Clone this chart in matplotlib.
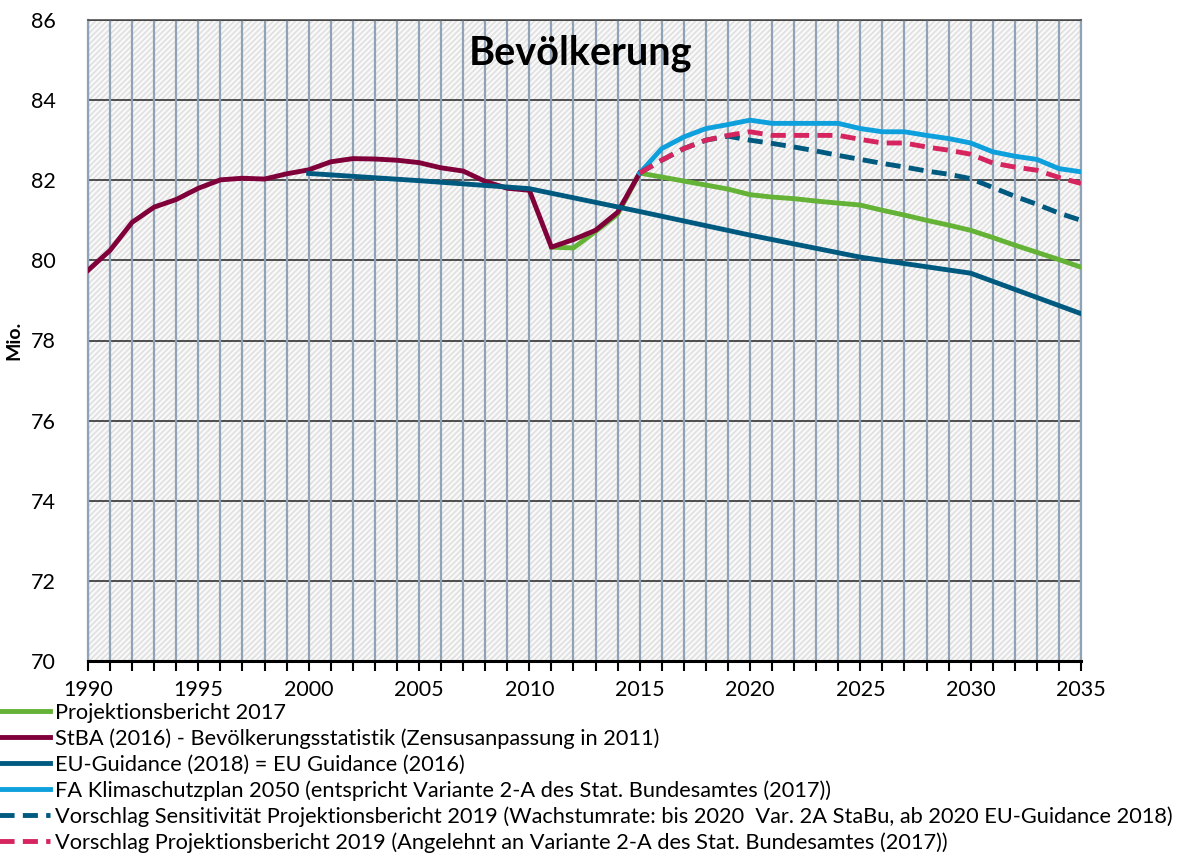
import numpy as np
import matplotlib
matplotlib.use("Agg")
import matplotlib.pyplot as plt
from matplotlib.patches import Rectangle

plt.rcParams['font.family'] = ['Lato', 'DejaVu Sans']
plt.rcParams['hatch.linewidth'] = 1.2
plt.rcParams['hatch.color'] = '#e0e0e0'

# data (Mio. inhabitants)
years_stba = list(range(1990, 2016))
stba = [79.75, 80.25, 80.95, 81.33, 81.52, 81.80, 82.01, 82.05, 82.03, 82.16,
        82.26, 82.46, 82.54, 82.53, 82.50, 82.44, 82.31, 82.23, 81.97, 81.80,
        81.75, 80.33, 80.52, 80.75, 81.20, 82.18]

years_pb17 = list(range(2011, 2036))
pb17 = [80.33, 80.31, 80.72, 81.15, 82.18, 82.08, 81.98, 81.88, 81.78, 81.64,
        81.58, 81.54, 81.48, 81.43, 81.38, 81.25, 81.13, 81.00, 80.88, 80.75,
        80.57, 80.38, 80.20, 80.02, 79.83]

years_eu = [2000, 2005, 2010, 2015, 2020, 2025, 2030, 2035]
eu = [82.17, 81.99, 81.79, 81.22, 80.63, 80.08, 79.68, 78.67]

years_proj = list(range(2015, 2036))
fa_ksp = [82.18, 82.79, 83.08, 83.29, 83.39, 83.50, 83.42, 83.42, 83.42, 83.42,
          83.29, 83.21, 83.21, 83.12, 83.04, 82.93, 82.71, 82.60, 82.52, 82.29,
          82.21]
sens19 = [82.18, 82.50, 82.79, 83.00, 83.10, 83.00, 82.92, 82.83, 82.73, 82.62,
          82.52, 82.42, 82.33, 82.23, 82.15, 82.04, 81.82, 81.60, 81.40, 81.18,
          81.00]
pb19 = [82.18, 82.50, 82.79, 83.00, 83.12, 83.21, 83.12, 83.12, 83.12, 83.12,
        83.02, 82.93, 82.93, 82.83, 82.75, 82.65, 82.43, 82.33, 82.25, 82.07,
        81.92]

labels = [
    'Projektionsbericht 2017',
    'StBA (2016) - Bevölkerungsstatistik (Zensusanpassung in 2011)',
    'EU-Guidance (2018) = EU Guidance (2016)',
    'FA Klimaschutzplan 2050 (entspricht Variante 2-A des Stat. Bundesamtes (2017))',
    'Vorschlag Sensitivität Projektionsbericht 2019 (Wachstumrate: bis 2020  Var. 2A StaBu, ab 2020 EU-Guidance 2018)',
    'Vorschlag Projektionsbericht 2019 (Angelehnt an Variante 2-A des Stat. Bundesamtes (2017))',
]

c_green = '#64b236'
c_crimson = '#80003a'
c_teal = '#005a80'
c_blue = '#0ea0dc'
c_pink = '#d6245e'
c_grid = '#8fa2b6'

fig = plt.figure(figsize=(11.89, 8.61), dpi=100)
ax = fig.add_axes([88/1189, 200/861, 993/1189, 641/861])

# hatched background
ax.add_patch(Rectangle((0, 0), 1, 1, transform=ax.transAxes, facecolor='#f9f9f9',
                       edgecolor='#e0e0e0', hatch='//////', linewidth=0, zorder=0))

for y in range(72, 87, 2):
    ax.axhline(y, color='#222222', lw=1.1, zorder=1)
for x in range(1990, 2036):
    ax.axvline(x, color=c_grid, lw=1.6, zorder=1)

lw = 3.5
dash = (0, (3.1, 1.7))
h1, = ax.plot(years_pb17, pb17, color=c_green, lw=lw, zorder=3)
h2, = ax.plot(years_stba, stba, color=c_crimson, lw=lw, zorder=4)
h3, = ax.plot(years_eu, eu, color=c_teal, lw=lw, zorder=5)
h4, = ax.plot(years_proj, fa_ksp, color=c_blue, lw=lw, zorder=6)
h5, = ax.plot(years_proj, sens19, color=c_teal, lw=lw, ls=dash, zorder=7)
h6, = ax.plot(years_proj, pb19, color=c_pink, lw=lw, ls=dash, zorder=8)

ax.set_xlim(1990, 2035)
ax.set_ylim(70, 86)
ax.set_xticks(range(1990, 2036, 5))
ax.set_xticks(range(1990, 2036), minor=True)
ax.set_yticks(range(70, 87, 2))
ax.tick_params(axis='x', which='both', direction='out', length=7, width=1.5,
               color='black', labelsize=15.5, pad=7)
ax.tick_params(axis='y', length=0, labelsize=15.5, pad=23)

for s in ['left', 'right']:
    ax.spines[s].set_color(c_grid)
    ax.spines[s].set_linewidth(1.6)
ax.spines['top'].set_color('#444444')
ax.spines['top'].set_linewidth(1.1)
ax.spines['bottom'].set_color('black')
ax.spines['bottom'].set_linewidth(2.2)
ax.spines['bottom'].set_zorder(10)

ax.text(0.496, 0.948, 'Bevölkerung', transform=ax.transAxes, ha='center', va='center',
        fontsize=28.5, fontweight='bold', zorder=12)
ax.set_ylabel('Mio.', fontsize=14, fontweight='bold')
ax.yaxis.set_label_coords(-66/993, 0.5)

fig.legend([h1, h2, h3, h4, h5, h6], labels, loc='upper left',
           bbox_to_anchor=(-0.002, 1 - 703/861), frameon=False, fontsize=15.7,
           handlelength=2.4, handletextpad=0.25, labelspacing=0.25,
           borderpad=0, borderaxespad=0)

fig.savefig('out.png', dpi=100)
